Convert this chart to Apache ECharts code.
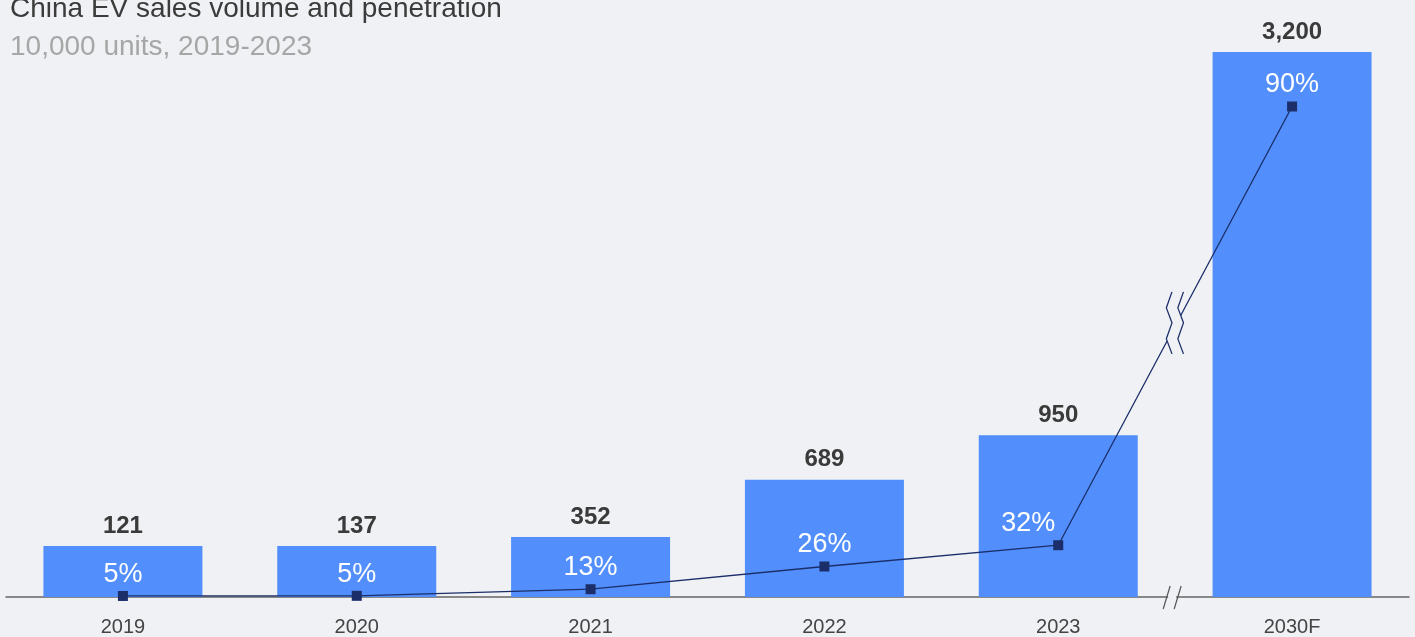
<!DOCTYPE html>
<html>
<head>
<meta charset="utf-8">
<title>China EV sales volume and penetration</title>
<script src="https://cdn.jsdelivr.net/npm/echarts@6/dist/echarts.min.js"></script>
<style>
  html, body { margin: 0; padding: 0; background: #f0f1f5; }
  #chart { width: 1415px; height: 637px; }
</style>
</head>
<body>
<div id="chart"></div>
<script>
// Sales volume (10,000 units) and EV penetration share (%) per year
const years = ['2019', '2020', '2021', '2022', '2023', '2030F'];
const sales = [121, 137, 352, 689, 950, 3200];
const penetration = [5, 5, 13, 26, 32, 90];

const TITLE = 'China EV sales volume and penetration';
const SUBTITLE = '10,000 units, 2019-2023';

const FONT = '"Liberation Sans", Arial, Helvetica, sans-serif';
const BG = '#f0f1f5';
const BAR = '#528ffd';
const NAVY = '#1b2e69';

// The penetration marker sits at its share of the year's bar
const shareHeights = sales.map((v, i) => v * penetration[i] / 100);
// 2023's label is nudged left so the rising line does not cross it
const labelShift = { 4: [-30, 0] };
const lineData = shareHeights.map((v, i) =>
  labelShift[i] ? { value: v, label: { offset: labelShift[i] } } : v
);

const chart = echarts.init(document.getElementById('chart'));

chart.setOption({
  animation: false,
  backgroundColor: BG,
  textStyle: { fontFamily: FONT },
  title: [
    {
      text: TITLE, left: 5, top: -10,
      textStyle: { fontSize: 28, fontWeight: 'normal', color: '#3b3b3b', fontFamily: FONT }
    },
    {
      text: SUBTITLE, left: 5, top: 28,
      textStyle: { fontSize: 28, fontWeight: 'normal', color: '#a6a6a6', fontFamily: FONT }
    }
  ],
  grid: { left: 6, right: 6, top: 52, bottom: 40 },
  xAxis: {
    type: 'category',
    data: years,
    axisLine: { lineStyle: { color: '#666', width: 1.5 } },
    axisTick: { show: false },
    axisLabel: { color: '#444', fontSize: 20, margin: 20, fontFamily: FONT }
  },
  yAxis: { type: 'value', min: 0, max: 3200, show: false, splitLine: { show: false } },
  series: [
    {
      type: 'bar',
      data: sales,
      barWidth: 159,
      barMinHeight: 51,
      itemStyle: { color: BAR },
      label: {
        show: true, position: 'top', distance: 8,
        fontSize: 24, fontWeight: 'bold', color: '#3a3a3a', fontFamily: FONT,
        formatter: p => p.value.toLocaleString('en-US')
      },
      z: 2
    },
    {
      type: 'line',
      data: lineData,
      symbol: 'rect',
      symbolSize: 10,
      lineStyle: { color: NAVY, width: 1.3 },
      itemStyle: { color: NAVY },
      label: {
        show: true, position: 'top', distance: 3,
        fontSize: 27, color: '#ffffff', fontFamily: FONT,
        formatter: p => penetration[p.dataIndex] + '%'
      },
      z: 3
    }
  ]
});

// Break marks for the 2024-2029 gap: on the axis and across the line
const toPx = (i, v) => chart.convertToPixel({ gridIndex: 0 }, [i, v]);
const a = toPx(4, shareHeights[4]);
const b = toPx(5, shareHeights[5]);
const midX = (a[0] + b[0]) / 2;
const midY = (a[1] + b[1]) / 2 - 2;
const base = toPx(0, 0)[1];

const zig = dx => [
  [dx + 2.8, midY - 32], [dx - 2.8, midY - 16], [dx + 2.8, midY - 1],
  [dx - 2.8, midY + 15], [dx + 2.8, midY + 30]
].map(p => [midX + p[0], p[1]]);
const zigL = zig(-6);
const zigR = zig(5.5);

const sx = midX - 3;
chart.setOption({
  graphic: [
    {
      type: 'polygon', z: 100,
      shape: { points: zigL.concat(zigR.slice().reverse()) },
      style: { fill: BG }
    },
    { type: 'polyline', z: 101, shape: { points: zigL }, style: { stroke: NAVY, lineWidth: 1.3, fill: null } },
    { type: 'polyline', z: 101, shape: { points: zigR }, style: { stroke: NAVY, lineWidth: 1.3, fill: null } },
    {
      type: 'rect', z: 100,
      shape: { x: sx - 4, y: base - 3, width: 8, height: 6 },
      style: { fill: BG }
    },
    { type: 'line', z: 101, shape: { x1: sx - 9, y1: base + 12, x2: sx - 2, y2: base - 11 }, style: { stroke: '#555', lineWidth: 1.2 } },
    { type: 'line', z: 101, shape: { x1: sx + 2, y1: base + 12, x2: sx + 9, y2: base - 11 }, style: { stroke: '#555', lineWidth: 1.2 } }
  ]
});
</script>
</body>
</html>
